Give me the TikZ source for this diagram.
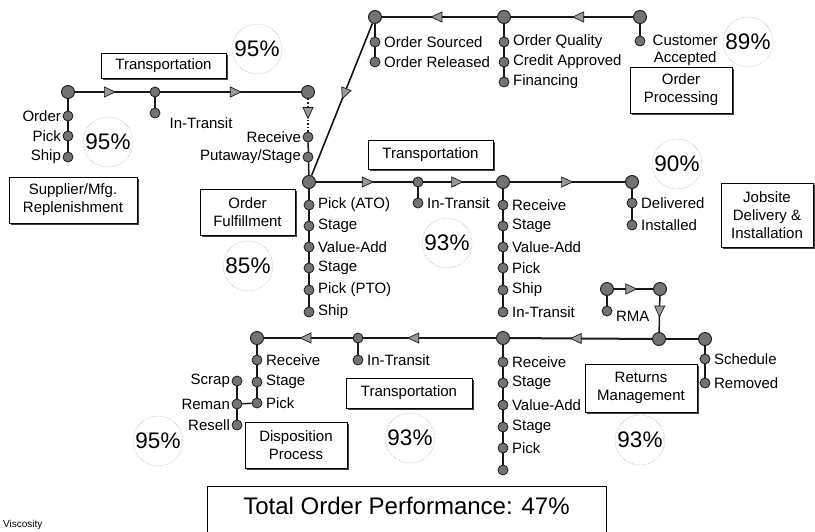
\documentclass[tikz,border=0pt]{standalone}
\usepackage{fontspec}
\setmainfont{Liberation Sans}
\usetikzlibrary{arrows.meta,decorations.markings,shadows,backgrounds}

\tikzset{
  bigdot/.style={circle,draw=black!90,fill=black!55,line width=0.9pt,minimum size=13pt,inner sep=0pt},
  dot/.style={circle,draw=black!90,fill=black!55,line width=0.8pt,minimum size=10pt,inner sep=0pt},
  lab/.style={font=\fontsize{15}{17}\selectfont,inner sep=1.5pt},
  flow/.style={line width=2pt,draw=black!90},
  stem/.style={line width=1.5pt,draw=black!90},
  fwd/.style={postaction={decorate,decoration={markings,mark=at position #1 with {\arrow{Triangle[length=12pt,width=11pt,fill=black!40,line width=0.7pt]}}}}},
  stage/.style={draw,line width=0.9pt,fill=white,align=center,font=\fontsize{15}{18}\selectfont,inner sep=2pt,
                drop shadow={shadow xshift=1.5pt,shadow yshift=-1.5pt,fill=black!75,opacity=1}},
  pct/.style={circle,draw=gray!70,densely dotted,line width=0.5pt,minimum size=50pt,inner sep=0pt,font=\fontsize{22.5}{22.5}\selectfont}
}

\begin{document}
\begin{tikzpicture}[x=1pt,y=-1pt]
    \useasboundingbox (0,0) rectangle (815,531);

    % supplier / mfg. replenishment
    \node[bigdot] (s0) at (68,92) {};
    \node[dot] (st) at (155,92) {};
    \node[bigdot] (s1) at (308,92) {};
    \foreach \y/\txt [count=\i] in {116/Order,136/Pick,157/Ship}
        \node[dot,label={[lab]left:\txt}] (so\i) at (68,\y) {};
    \node[dot] (sti) at (155,113) {};
    \node[lab,anchor=west] (stt) at (168,123) {In-Transit};
    \node[dot,label={[lab]left:Receive}] (sr1) at (308,137) {};
    \node[dot,label={[lab]left:Putaway/Stage}] (sr2) at (308,157) {};

    % order processing
    \node[bigdot] (o0) at (375,17) {};
    \node[bigdot] (o1) at (504,17) {};
    \node[bigdot] (o2) at (640,17) {};
    \foreach \y/\txt [count=\i] in {42/Order Sourced,62/Order Released}
        \node[dot,label={[lab,xshift=2pt]right:\txt}] (oa\i) at (375,\y) {};
    \foreach \y/\txt [count=\i] in {42/Order Quality,62/Credit Approved,82/Financing}
        \node[dot,label={[lab,xshift=2pt]right:\txt}] (ob\i) at (504,\y) {};
    \node[dot] (oc1) at (640,41) {};
    \node[lab,align=center,anchor=north west] (oct) at (651,33) {Customer\\Accepted};

    % order fulfillment + jobsite
    \node[bigdot] (f0) at (309,182) {};
    \node[dot] (f1) at (418,182) {};
    \node[bigdot] (f2) at (503,182) {};
    \node[bigdot] (f3) at (632,182) {};
    \foreach \y/\txt [count=\i] in {205/Pick (ATO),226/Stage,247/Value-Add,268/Stage,290/Pick (PTO),312/Ship}
        \node[dot,label={[lab,xshift=2pt]right:\txt}] (fa\i) at (309,\y) {};
    \node[dot,label={[lab,xshift=2pt]right:In-Transit}] (f1i) at (418,203) {};
    \foreach \y/\txt [count=\i] in {205/Receive,226/Stage,247/Value-Add,268/Pick,290/Ship,312/In-Transit}
        \node[dot,label={[lab,xshift=2pt]right:\txt}] (fb\i) at (503,\y) {};
    \node[dot,label={[lab,xshift=2pt]right:Delivered}] (fc1) at (632,203) {};
    \node[dot,label={[lab,xshift=2pt]right:Installed}] (fc2) at (632,225) {};

    % returns + disposition
    \node[bigdot] (r0) at (257,338) {};
    \node[dot] (r1) at (358,338) {};
    \node[bigdot] (r2) at (503,338) {};
    \node[bigdot] (r3) at (659,339) {};
    \node[bigdot] (r4) at (705,339) {};
    \foreach \y/\txt [count=\i] in {360/Receive,382/Stage,403/Pick}
        \node[dot,label={[lab,xshift=2pt]right:\txt}] (ra\i) at (257,\y) {};
    \foreach \y/\txt [count=\i] in {381/Scrap,404/Reman,425/Resell}
        \node[dot,label={[lab]left:\txt}] (rd\i) at (237,\y) {};
    \node[dot,label={[lab,xshift=2pt]right:In-Transit}] (r1i) at (358,360) {};
    \foreach \y/\txt [count=\i] in {362/Receive,383/Stage,405/Value-Add,427/Stage,448/Pick}
        \node[dot,label={[lab,xshift=2pt]right:\txt}] (rb\i) at (503,\y) {};
    \node[dot] (rb6) at (503,470) {};
    \node[dot,label={[lab,xshift=2pt]right:Schedule}] (rc1) at (705,359) {};
    \node[dot,label={[lab,xshift=2pt]right:Removed}] (rc2) at (705,383) {};
    \node[bigdot] (m0) at (607,289) {};
    \node[bigdot] (m1) at (660,289) {};
    \node[dot,label={[lab,xshift=2pt,yshift=-5pt]right:RMA}] (m0i) at (607,311) {};

    % connectors
    \begin{scope}[on background layer]
        \draw[flow,fwd=0.55] (s0) -- (st);
        \draw[flow,fwd=0.58] (st) -- (s1);
        \draw[stem] (s0) -- (so3);
        \draw[stem] (st) -- (sti);
        \draw[stem,dotted,fwd=0.62] (s1) -- (sr1);
        \draw[stem] (sr1) -- (f0);

        \draw[flow,fwd=0.5] (o2) -- (o1);
        \draw[flow,fwd=0.58] (o1) -- (o0);
        \draw[stem] (o0) -- (oa2);
        \draw[stem] (o1) -- (ob3);
        \draw[stem] (o2) -- (oc1);
        \draw[line width=1.6pt,draw=black!90,fwd=0.5] (o0) -- (f0);

        \draw[flow,fwd=0.6] (f0) -- (f1);
        \draw[flow,fwd=0.55] (f1) -- (f2);
        \draw[flow,fwd=0.55] (f2) -- (f3);
        \draw[stem] (f0) -- (fa6);
        \draw[stem] (f1) -- (f1i);
        \draw[stem] (f2) -- (fb6);
        \draw[stem] (f3) -- (fc2);

        \draw[flow] (r4) -- (r3);
        \draw[flow,fwd=0.58] (r3) -- (r2);
        \draw[flow,fwd=0.67] (r2) -- (r1);
        \draw[flow,fwd=0.6] (r1) -- (r0);
        \draw[stem] (r0) -- (ra3);
        \draw[stem] (ra3) -- (rd2);
        \draw[stem] (rd1) -- (rd3);
        \draw[stem] (r1) -- (r1i);
        \draw[stem] (r2) -- (rb6);
        \draw[stem] (r4) -- (rc2);
        \draw[flow,fwd=0.6] (m0) -- (m1);
        \draw[stem,fwd=0.6] (m1) -- (r3);
        \draw[stem] (m0) -- (m0i);
    \end{scope}

    % process boxes
    \node[stage,minimum width=125pt,minimum height=25pt] (trs) at (163.5,65.5) {Transportation};
    \node[stage,minimum width=128pt,minimum height=46pt] (sup) at (73,200) {Supplier/Mfg.\\Replenishment};
    \node[stage,minimum width=95pt,minimum height=46pt] (ful) at (247.5,212) {Order\\Fulfillment};
    \node[stage,minimum width=125pt,minimum height=29pt] (trf) at (430.5,154.5) {Transportation};
    \node[stage,minimum width=102pt,minimum height=46pt] (opr) at (681,90) {Order\\Processing};
    \node[stage,minimum width=92pt,minimum height=64pt] (job) at (767,215) {Jobsite\\Delivery \&\\Installation};
    \node[stage,minimum width=112pt,minimum height=48pt] (ret) at (641,388) {Returns\\Management};
    \node[stage,minimum width=126pt,minimum height=30pt] (trr) at (409,393) {Transportation};
    \node[stage,minimum width=102pt,minimum height=46pt] (dis) at (296,445) {Disposition\\Process};

    % performance circles
    \node[pct] (ptrs) at (257,49) {95\%};
    \node[pct] (psup) at (108,142) {95\%};
    \node[pct] (popr) at (748,42) {89\%};
    \node[pct] (pjob) at (677,164) {90\%};
    \node[pct] (pful) at (248,266) {85\%};
    \node[pct] (ptrf) at (447,243) {93\%};
    \node[pct] (ptrr) at (410,438) {93\%};
    \node[pct] (pret) at (640,440) {93\%};
    \node[pct] (pdis) at (158,441) {95\%};

    % total
    \node[draw,line width=0.9pt,anchor=base,minimum width=399pt,text height=18pt,text depth=24pt,inner ysep=10pt,
          font=\fontsize{24}{24}\selectfont] (tot) at (406.5,514) {Total Order Performance: 47\%};
    \node[anchor=base west,inner sep=0pt,font=\fontsize{10}{10}\selectfont] (visc) at (3,527) {Viscosity};
\end{tikzpicture}
\end{document}
